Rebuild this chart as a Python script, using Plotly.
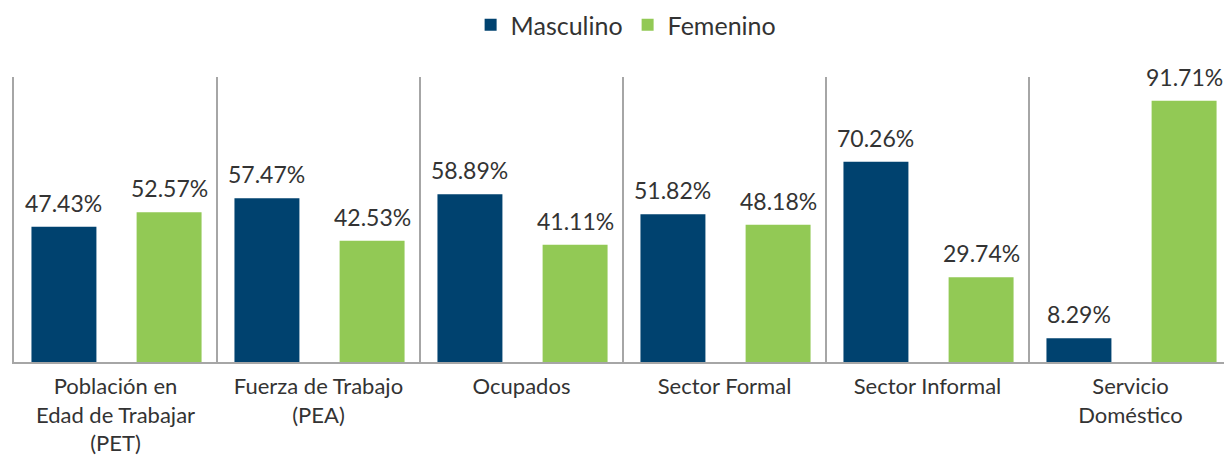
import plotly.graph_objects as go

categories = ["Población en<br>Edad de Trabajar<br>(PET)", "Fuerza de Trabajo<br>(PEA)", "Ocupados",
              "Sector Formal", "Sector Informal", "Servicio<br>Doméstico"]
masculino = [47.43, 57.47, 58.89, 51.82, 70.26, 8.29]
femenino = [52.57, 42.53, 41.11, 48.18, 29.74, 91.71]

BLUE = "#00426F"
GREEN = "#92C955"
TXT = "#333333"
LINE = "#A6A6A6"
FONT = "Lato"
W = 0.32
OFF_M = -0.414
OFF_F = 0.104

fig = go.Figure()
fig.add_trace(go.Bar(name="Masculino", x=categories, y=masculino, marker_color=BLUE,
                     width=W, offset=OFF_M, marker_line_width=0))
fig.add_trace(go.Bar(name="Femenino", x=categories, y=femenino, marker_color=GREEN,
                     width=W, offset=OFF_F, marker_line_width=0))

annotations = []
for series, off in ((masculino, OFF_M), (femenino, OFF_F)):
    for i, v in enumerate(series):
        annotations.append(dict(x=i + off + W / 2, y=v, xref="x", yref="y",
                                text=f"{v:.2f}%", showarrow=False, yanchor="bottom",
                                yshift=8, font=dict(family=FONT, size=23, color=TXT)))

fig.update_layout(
    width=1224, height=449,
    margin=dict(l=6, r=0, t=69, b=95, autoexpand=False),
    plot_bgcolor="white", paper_bgcolor="white",
    barmode="overlay",
    font=dict(family=FONT, size=22, color=TXT),
    showlegend=True,
    legend=dict(orientation="h", xref="container", yref="container", x=0.505, y=0.962,
                xanchor="center", yanchor="middle", font=dict(family=FONT, size=25, color=TXT),
                itemwidth=30, tracegroupgap=0),
    annotations=annotations,
    xaxis=dict(type="category", tickson="boundaries", showgrid=True, gridcolor=LINE,
               gridwidth=1.5, showline=True, linecolor=LINE, linewidth=1.5, ticks="",
               ticklabelstandoff=4, automargin=False,
               range=[-0.5, 5.5], tickfont=dict(family=FONT, size=22, color=TXT)),
    yaxis=dict(range=[0, 100], showgrid=False, showticklabels=False, zeroline=False,
               showline=True, linecolor=LINE, linewidth=1.5, ticks="", automargin=False),
)

fig.write_html("out.html")
